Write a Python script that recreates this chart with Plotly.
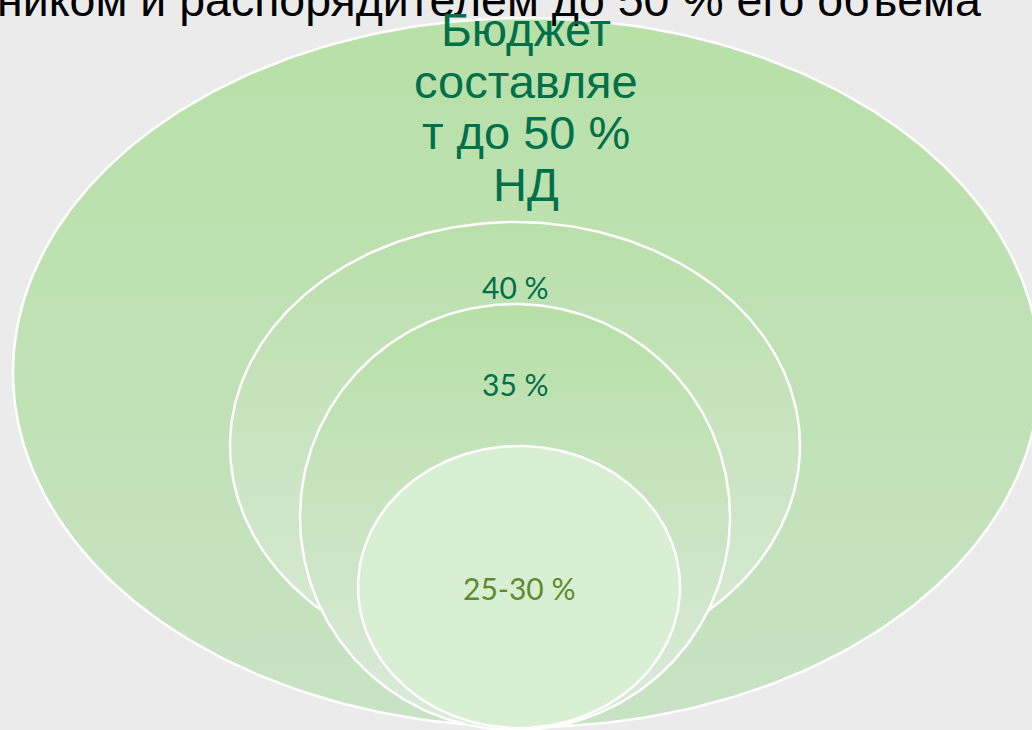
import numpy as np
import plotly.graph_objects as go

# ---- content (text / values) ----
title_text = "ником и распорядителем до 50 % его объема"
outer_lines = ["Бюджет", "составляе", "т до 50 %", "НД"]
ring_labels = ["40 %", "35 %", "25-30 %"]

# ---- geometry / style (pixel space, y measured from top) ----
W, H = 1032, 730
# (cx, cy, rx, ry, top colour, bottom colour)
ellipses = [
    (526.5, 372.5, 513.5, 354.5, "#b8e0a7", "#c8e3c4"),
    (515.0, 446.0, 285.0, 224.0, "#b9dfaa", "#d9ead7"),
    (515.0, 517.0, 215.0, 213.0, "#b7dfa7", "#dceadb"),
    (519.0, 587.0, 161.0, 141.0, "#d8efd4", "#d8efd4"),
]
outer_line_pos = [29, 81, 132, 184]
outer_line_x = 526
ring_label_pos = [(515, 287), (515, 384), (519, 588)]
ring_label_colors = ["#00704a", "#00704a", "#5e8c2c"]

fig = go.Figure()
t = np.linspace(0, 2 * np.pi, 361)
for cx, cy, rx, ry, ctop, cbot in ellipses:
    xs = cx + rx * np.cos(t)
    ys = (H - cy) + ry * np.sin(t)
    fig.add_trace(go.Scatter(
        x=xs, y=ys, mode="lines", fill="toself",
        line=dict(color="white", width=2.5),
        fillgradient=dict(type="vertical",
                          colorscale=[[0, cbot], [1, ctop]],
                          start=H - (cy + ry), stop=H - (cy - ry)),
        hoverinfo="skip", showlegend=False,
    ))

ann = []
ann.append(dict(x=983, y=H - 0, xref="x", yref="y", text=title_text,
                showarrow=False, xanchor="right", yanchor="middle",
                font=dict(family="Liberation Sans, Arial", size=46.5, color="black")))
for line, py in zip(outer_lines, outer_line_pos):
    ann.append(dict(x=outer_line_x, y=H - py, xref="x", yref="y", text=line,
                    showarrow=False, xanchor="center", yanchor="middle",
                    font=dict(family="Liberation Sans, Arial", size=47, color="#00704a")))
for lab, (px, py), col in zip(ring_labels, ring_label_pos, ring_label_colors):
    ann.append(dict(x=px, y=H - py, xref="x", yref="y", text=lab,
                    showarrow=False, xanchor="center", yanchor="middle",
                    font=dict(family="Lato", size=30, color=col)))

fig.update_layout(
    width=W, height=H,
    margin=dict(l=0, r=0, t=0, b=0),
    paper_bgcolor="#ebebeb", plot_bgcolor="#ebebeb",
    xaxis=dict(range=[0, W], visible=False, fixedrange=True),
    yaxis=dict(range=[0, H], visible=False, fixedrange=True),
    annotations=ann,
    showlegend=False,
)
fig.write_html("out.html", config={"displayModeBar": False},
               post_script="document.body.style.margin='0';document.body.style.overflow='hidden';")
